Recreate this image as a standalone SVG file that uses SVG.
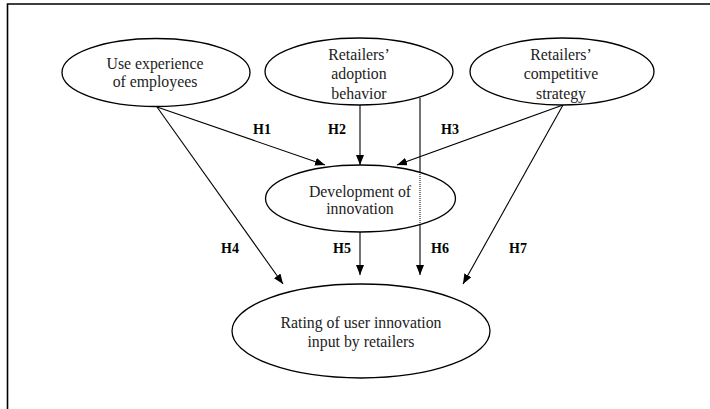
<svg xmlns="http://www.w3.org/2000/svg" width="710" height="409" viewBox="0 0 710 409">
  <style>
    .node { fill: #fff; stroke: #000; stroke-width: 1.3; }
    .txt { font-family: "Liberation Serif", "Times New Roman", serif; font-size: 15.8px; fill: #222; text-anchor: middle; }
    .lbl { font-family: "Liberation Serif", "Times New Roman", serif; font-size: 14px; font-weight: bold; fill: #000; text-anchor: middle; }
    .edge { stroke: #000; stroke-width: 1.1; fill: none; marker-end: url(#arrow); }
  </style>
  <defs>
    <marker id="arrow" viewBox="0 0 10 8" refX="10" refY="4" markerWidth="10" markerHeight="8" markerUnits="userSpaceOnUse" orient="auto">
      <path d="M0,0 L10,4 L0,8 z" fill="#000"/>
    </marker>
  </defs>
  <rect width="710" height="409" fill="#fff"/>
  <!-- frame: left and top rules only -->
  <path d="M7.5,409 V4 H710" fill="none" stroke="#000" stroke-width="1.6"/>

  <g id="connectors">
    <line class="edge" x1="157" y1="107" x2="325" y2="165"/>
    <line class="edge" x1="157" y1="107" x2="283" y2="284"/>
    <line class="edge" x1="360" y1="105" x2="360" y2="165"/>
    <line class="edge" x1="563" y1="105" x2="397" y2="165"/>
    <line class="edge" x1="563" y1="105" x2="463" y2="284"/>
    <line class="edge" x1="360" y1="232" x2="360" y2="275"/>
    <line class="edge" x1="420" y1="98" x2="420" y2="275"/>
  </g>

  <g id="n-employees">
    <ellipse class="node" cx="156" cy="72.5" rx="94" ry="34"/>
    <text class="txt" x="155" y="68.5">Use experience</text>
    <text class="txt" x="155" y="87">of employees</text>
  </g>
  <g id="n-adoption">
    <ellipse class="node" cx="359" cy="71.5" rx="94" ry="33.5"/>
    <text class="txt" x="359" y="59.5">Retailers’</text>
    <text class="txt" x="359" y="79">adoption</text>
    <text class="txt" x="359" y="98.5">behavior</text>
  </g>
  <g id="n-strategy">
    <ellipse class="node" cx="562" cy="71.5" rx="92" ry="33.5"/>
    <text class="txt" x="561" y="59.5">Retailers’</text>
    <text class="txt" x="561" y="79">competitive</text>
    <text class="txt" x="561" y="98.5">strategy</text>
  </g>
  <g id="n-development">
    <ellipse class="node" cx="360.5" cy="198.5" rx="95" ry="33.5"/>
    <!-- the H6 connector shows through the ellipse as a dotted line -->
    <line x1="420" y1="172" x2="420" y2="226" stroke="#000" stroke-width="1" stroke-dasharray="1 1"/>
    <text class="txt" x="360" y="196.5">Development of</text>
    <text class="txt" x="360" y="214">innovation</text>
  </g>
  <g id="n-rating">
    <ellipse class="node" cx="361" cy="331" rx="129" ry="47"/>
    <text class="txt" x="361" y="328">Rating of user innovation</text>
    <text class="txt" x="361" y="347">input by retailers</text>
  </g>

  <g id="labels">
    <text class="lbl" x="262" y="134">H1</text>
    <text class="lbl" x="337" y="134">H2</text>
    <text class="lbl" x="450" y="134">H3</text>
    <text class="lbl" x="230" y="253">H4</text>
    <text class="lbl" x="342" y="253">H5</text>
    <text class="lbl" x="440" y="253">H6</text>
    <text class="lbl" x="518" y="253">H7</text>
  </g>
</svg>
